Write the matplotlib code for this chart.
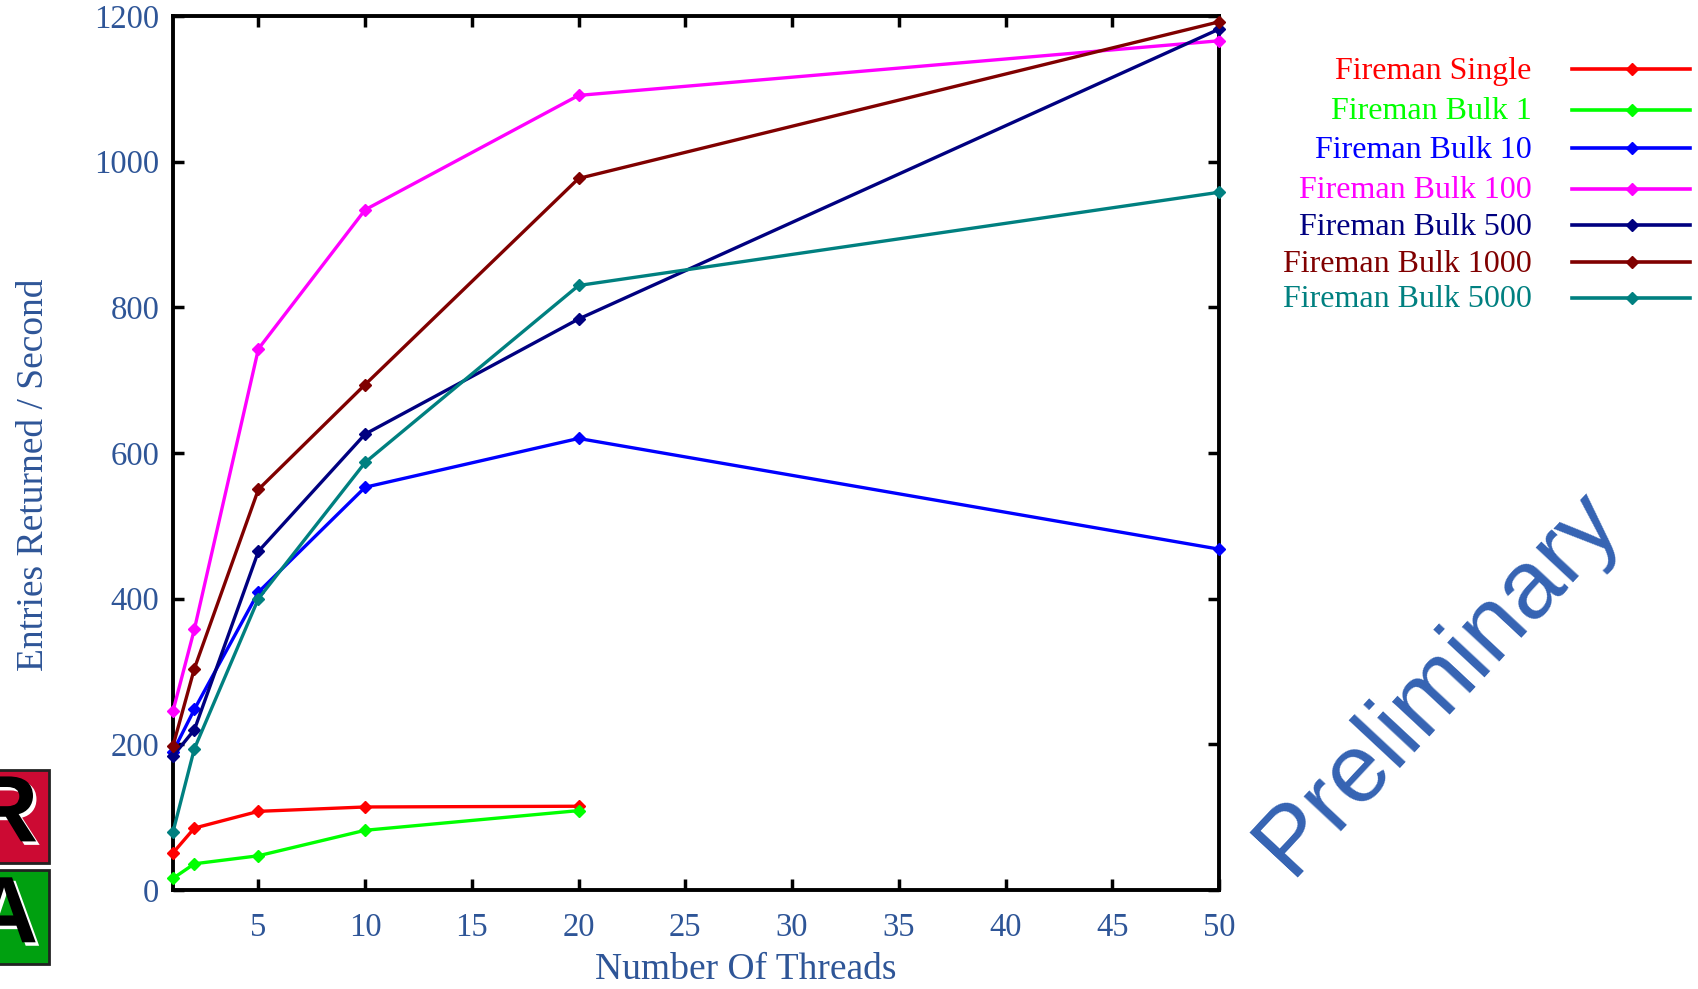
import matplotlib
matplotlib.use("Agg")
import matplotlib.pyplot as plt
import matplotlib.patheffects as pe
from matplotlib.lines import Line2D
from matplotlib.patches import Rectangle

threads = [1, 2, 5, 10, 20, 50]

series_names = [
    "Fireman Single",
    "Fireman Bulk 1",
    "Fireman Bulk 10",
    "Fireman Bulk 100",
    "Fireman Bulk 500",
    "Fireman Bulk 1000",
    "Fireman Bulk 5000",
]
series_colors = ["#ff0000", "#00ff00", "#0000ff", "#ff00ff", "#000080", "#800000", "#008080"]

fireman_single = [51, 85, 108, 114, 115]
fireman_bulk_1 = [16, 36, 47, 82, 109]
fireman_bulk_10 = [190, 248, 409, 553, 620, 468]
fireman_bulk_100 = [246, 358, 743, 934, 1091, 1166]
fireman_bulk_500 = [184, 220, 465, 626, 784, 1182]
fireman_bulk_1000 = [198, 304, 550, 694, 977, 1192]
fireman_bulk_5000 = [80, 194, 400, 587, 830, 958]

series_values = [
    fireman_single,
    fireman_bulk_1,
    fireman_bulk_10,
    fireman_bulk_100,
    fireman_bulk_500,
    fireman_bulk_1000,
    fireman_bulk_5000,
]

x_ticks = [5, 10, 15, 20, 25, 30, 35, 40, 45, 50]
y_ticks = [0, 200, 400, 600, 800, 1000, 1200]

label_color = "#2e5597"
plt.rcParams["font.family"] = ["Liberation Serif", "DejaVu Serif"]

fig = plt.figure(figsize=(16.98, 9.89), dpi=100)
ax = fig.add_axes([0.1019, 0.1001, 0.616, 0.8837])

for name, vals, col in zip(series_names, series_values, series_colors):
    ax.plot(threads[:len(vals)], vals, color=col, lw=2.4, marker="D",
            markersize=6.5, clip_on=False, zorder=3)

ax.set_xlim(1, 50)
ax.set_ylim(0, 1200)
ax.set_xticks(x_ticks)
ax.set_yticks(y_ticks)
ax.tick_params(direction="in", length=8, width=2.5, top=True, right=True,
               labelsize=23.5, labelcolor=label_color)
ax.tick_params(axis="x", pad=16)
ax.tick_params(axis="y", pad=10)
for s in ax.spines.values():
    s.set_linewidth(2.8)

ax.set_xlabel("Number Of Threads", fontsize=27, color=label_color)
ax.set_ylabel("Entries Returned / Second", fontsize=27, color=label_color)
ax.xaxis.set_label_coords(0.548, -0.071)
ax.yaxis.set_label_coords(-0.117, 0.475)

# legend drawn by hand: right-aligned coloured text, line with diamond after it
legend_y = [0.932, 0.891, 0.852, 0.811, 0.774, 0.737, 0.701]
for name, col, yy in zip(series_names, series_colors, legend_y):
    fig.text(0.902, yy - 0.004, name, color=col, fontsize=23, ha="right", va="center")
    fig.add_artist(Line2D([0.926, 0.995], [yy - 0.002, yy - 0.002], color=col, lw=2.6,
                          transform=fig.transFigure))
    fig.add_artist(Line2D([0.961], [yy - 0.002], color=col, marker="D", markersize=6.5,
                          transform=fig.transFigure))

fig.text(0.847, 0.31, "Preliminary", fontsize=70, color="#3563b3",
         family="Liberation Sans", rotation=47, ha="center", va="center")

# partial logo at the lower left edge
fig.add_artist(Rectangle((-0.01, 0.127), 0.039, 0.094, transform=fig.transFigure,
                         facecolor="#cc0a33", edgecolor="#222222", lw=2))
fig.add_artist(Rectangle((-0.01, 0.025), 0.039, 0.095, transform=fig.transFigure,
                         facecolor="#00a010", edgecolor="#222222", lw=2))
shadow = [pe.SimplePatchShadow(offset=(2.5, -2.5), shadow_rgbFace="white", alpha=1), pe.Normal()]
for letter, yy in [("R", 0.174), ("A", 0.072)]:
    fig.text(0.0225, yy, letter, fontsize=68, color="black", weight="bold",
             family="Liberation Sans", ha="right", va="center", path_effects=shadow)

fig.savefig("out.png", dpi=100)
